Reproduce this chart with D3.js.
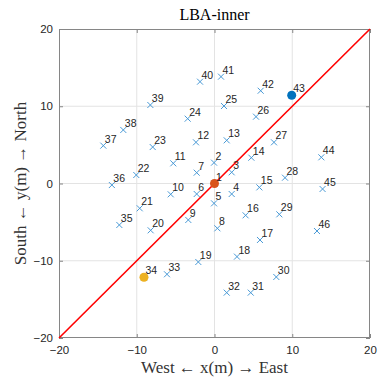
<!DOCTYPE html>
<html><head><meta charset="utf-8">
<script src="https://cdn.jsdelivr.net/npm/d3@7"></script>
<style>body{margin:0;background:#fff}svg{display:block}</style>
</head><body>
<script>
const ids = [1,2,3,4,5,6,7,8,9,10,11,12,13,14,15,16,17,18,19,20,21,22,23,24,25,26,27,28,29,30,31,32,33,34,35,36,37,38,39,40,41,42,43,44,45,46];
const xs = [0,-0.06,2.21,2.21,-0.06,-2.29,-2.29,0.37,-3.37,-5.63,-5.3,-2.38,1.57,4.74,5.77,4.0,5.85,2.89,-2.08,-8.21,-9.62,-10.06,-7.95,-3.45,1.22,5.34,7.65,9.07,8.34,7.95,4.66,1.57,-6.11,-9.07,-12.24,-13.2,-14.3,-11.73,-8.25,-1.86,0.84,5.94,9.93,13.74,13.9,13.18];
const ys = [0,2.7,1.45,-1.36,-2.57,-1.36,1.4,-5.8,-4.72,-1.4,2.61,5.33,5.59,3.34,-0.5,-4.12,-7.31,-9.47,-10.16,-6.06,-3.21,1.1,4.72,8.39,10.03,8.65,5.33,0.75,-3.99,-12.1,-14.13,-14.13,-11.75,-12.14,-5.37,-0.2,4.9,6.93,10.16,13.18,13.83,12.01,11.42,3.39,-0.71,-6.15];
const highlights = [{id:43,color:"#0072BD"},{id:34,color:"#EDB120"},{id:1,color:"#D95319"}];
const ticks = [-20,-10,0,10,20];
const diagonal = [[-20,-20],[20,20]];

const W=379,H=381, L=59,R=370,T=29,B=338;
const svg=d3.select("body").append("svg").attr("width",W).attr("height",H);
const x=d3.scaleLinear().domain([-20,20]).range([L,R]);
const y=d3.scaleLinear().domain([-20,20]).range([B,T]);
const tc="#262626";
const g=svg.append("g");
g.selectAll(".gx").data(ticks.slice(1,-1)).join("line").attr("x1",d=>x(d)).attr("x2",d=>x(d)).attr("y1",T).attr("y2",B).attr("stroke","#e3e3e3").attr("stroke-width",1);
g.selectAll(".gy").data(ticks.slice(1,-1)).join("line").attr("y1",d=>y(d)).attr("y2",d=>y(d)).attr("x1",L).attr("x2",R).attr("stroke","#e3e3e3").attr("stroke-width",1);
const axB=d3.axisBottom(x).tickValues(ticks).tickSize(-4).tickPadding(8).tickFormat(d3.format("d"));
const axL=d3.axisLeft(y).tickValues(ticks).tickSize(-4).tickPadding(6).tickFormat(d3.format("d"));
const axT=d3.axisTop(x).tickValues(ticks).tickSize(-4).tickFormat("");
const axR=d3.axisRight(y).tickValues(ticks).tickSize(-4).tickFormat("");
function style(s){s.select(".domain").attr("stroke","#868686");s.selectAll(".tick line").attr("stroke","#868686");s.selectAll("text").attr("fill",tc).attr("font-family","Liberation Sans, Arial, sans-serif").attr("font-size","11.5px");}
svg.append("g").attr("transform",`translate(0,${B})`).call(axB).call(style);
svg.append("g").attr("transform",`translate(${L},0)`).call(axL).call(style);
svg.append("g").attr("transform",`translate(0,${T})`).call(axT).call(style);
svg.append("g").attr("transform",`translate(${R},0)`).call(axR).call(style);
svg.selectAll(".domain").attr("d",null);
svg.append("rect").attr("x",L+0.5).attr("y",T+0.5).attr("width",R-L-1).attr("height",B-T-1).attr("fill","none").attr("stroke","#868686");
const pts=ids.map((id,i)=>({id,x:xs[i],y:ys[i]}));
const cs=3;
const cg=svg.append("g").attr("stroke","#4a9ad6").attr("stroke-width",1);
cg.selectAll("path").data(pts).join("path").attr("d",d=>{const px=x(d.x),py=y(d.y);return `M${px-cs},${py-cs}L${px+cs},${py+cs}M${px-cs},${py+cs}L${px+cs},${py-cs}`;});
svg.append("path").attr("d",d3.line().x(d=>x(d[0])).y(d=>y(d[1]))(diagonal)).attr("stroke","#ff0000").attr("stroke-width",1.6).attr("fill","none");
highlights.forEach(h=>{const p=pts.find(q=>q.id===h.id);svg.append("circle").attr("cx",x(p.x)).attr("cy",y(p.y)).attr("r",4.5).attr("fill",h.color);});
svg.append("g").selectAll("text").data(pts).join("text").attr("x",d=>x(d.x)+1.5).attr("y",d=>y(d.y)-3).text(d=>d.id).attr("fill",tc).attr("font-family","Liberation Sans, Arial, sans-serif").attr("font-size","10.5px");
svg.append("text").attr("x",(L+R)/2).attr("y",20).attr("text-anchor","middle").attr("font-family","Liberation Serif, DejaVu Serif, serif").attr("font-size","16px").attr("fill","#000").text("LBA-inner");
svg.append("text").attr("x",(L+R)/2).attr("y",373).attr("text-anchor","middle").attr("font-family","Liberation Serif, DejaVu Serif, serif").attr("font-size","17px").attr("fill","#333").text("West ← x(m) → East");
svg.append("text").attr("transform",`translate(26,${(T+B)/2}) rotate(-90)`).attr("text-anchor","middle").attr("font-family","Liberation Serif, DejaVu Serif, serif").attr("font-size","17px").attr("fill","#333").text("South ← y(m) → North");
</script>
</body></html>
